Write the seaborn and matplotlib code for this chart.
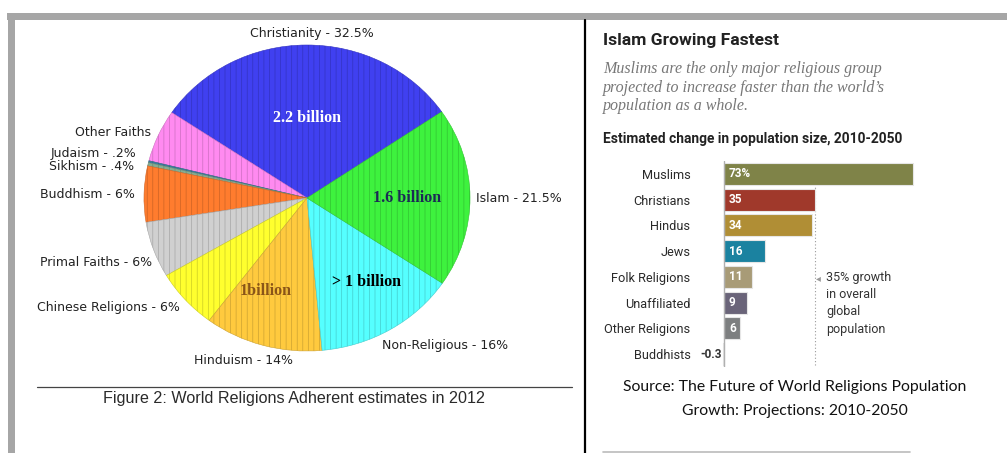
import matplotlib
matplotlib.use("Agg")
import matplotlib.pyplot as plt
import matplotlib.colors as mcolors
from matplotlib.patches import Rectangle
from matplotlib.lines import Line2D
import seaborn as sns
import pandas as pd

# ---------------- data: left pie (World Religions 2012) ----------------
pie_names = ["Christianity", "Other Faiths", "Judaism", "Sikhism", "Buddhism",
             "Primal Faiths", "Chinese Religions", "Hinduism", "Non-Religious", "Islam"]
pie_label_text = ["Christianity - 32.5%", "Other Faiths", "Judaism - .2%", "Sikhism - .4%",
                  "Buddhism - 6%", "Primal Faiths - 6%", "Chinese Religions - 6%",
                  "Hinduism - 14%", "Non-Religious - 16%", "Islam - 21.5%"]
pie_shares = [31.0, 5.5, 0.2, 0.35, 5.9, 5.9, 6.3, 11.7, 14.1, 18.9]
pie_colors = ["#4040f0", "#ff8af0", "#3a7fa0", "#86ad92", "#ff7c2e",
              "#d0d0d0", "#ffff2e", "#ffca3e", "#55ffff", "#3ef23e"]
inner_text = ["2.2 billion", "1.6 billion", "> 1 billion", "1billion"]
inner_color = ["white", "#1b2a55", "black", "#8a5518"]

# ---------------- data: right bars (change 2010-2050) ----------------
groups = ["Muslims", "Christians", "Hindus", "Jews", "Folk Religions",
          "Unaffiliated", "Other Religions", "Buddhists"]
change = [73, 35, 34, 16, 11, 9, 6, -0.3]
value_labels = ["73%", "35", "34", "16", "11", "9", "6", "-0.3"]
bar_colors = ["#7f8348", "#a0392b", "#b08e35", "#1b82a0", "#a89b77",
              "#6a6479", "#7d7f80", "#7d7f80"]
global_growth = 35

W, H = 1007, 453
sns.set_theme(style="white")
plt.rcParams["font.family"] = ["DejaVu Sans"]
plt.rcParams["hatch.linewidth"] = 0.5

fig = plt.figure(figsize=(W / 100, H / 100), dpi=100)
fig.patch.set_facecolor("white")

def fx(x):
    return x / W

def fy(y):
    return 1 - y / H

def ptext(x, y, s, **kw):
    fig.text(fx(x), fy(y), s, **kw)

# ---- frame decorations ----
fig.add_artist(Rectangle((fx(7), fy(20)), fx(1007) - fx(7), fy(13) - fy(20),
                         transform=fig.transFigure, color="#a6a6a6", lw=0))
fig.add_artist(Rectangle((fx(8), fy(453)), fx(15) - fx(8), fy(13) - fy(453),
                         transform=fig.transFigure, color="#a6a6a6", lw=0))
fig.add_artist(Line2D([fx(584.5), fx(584.5)], [fy(20), fy(453)],
                      transform=fig.transFigure, color="black", lw=1.6))
fig.add_artist(Line2D([fx(37), fx(572)], [fy(387), fy(387)],
                      transform=fig.transFigure, color="#444444", lw=0.9))
fig.add_artist(Line2D([fx(603), fx(910)], [fy(452), fy(452)],
                      transform=fig.transFigure, color="#bbbbbb", lw=1.2))

# ---- pie ----
cx, cy, rx, ry = 307, 198, 163, 153
axp = fig.add_axes([fx(cx - rx), fy(cy + ry), (2 * rx) / W, (2 * ry) / H])
edge = [mcolors.to_hex([c * 0.8 for c in mcolors.to_rgb(col)]) for col in pie_colors]
wedges, _ = axp.pie(pie_shares, colors=pie_colors, startangle=34.3,
                    counterclock=True, radius=1,
                    wedgeprops=dict(linewidth=0.4, hatch="|||"))
for w, e in zip(wedges, edge):
    w.set_edgecolor(e)
axp.set_aspect("auto")
axp.set_xlim(-1, 1)
axp.set_ylim(-1, 1)
axp.axis("off")

lab = dict(fontsize=9, color="#222222", va="center")
ptext(312, 33, pie_label_text[0], ha="center", **lab)
ptext(151, 133, pie_label_text[1], ha="right", **lab)
ptext(136, 154, pie_label_text[2], ha="right", **lab)
ptext(134, 167, pie_label_text[3], ha="right", **lab)
ptext(135, 194, pie_label_text[4], ha="right", **lab)
ptext(152, 262, pie_label_text[5], ha="right", **lab)
ptext(180, 307, pie_label_text[6], ha="right", **lab)
ptext(244, 360, pie_label_text[7], ha="center", **lab)
ptext(382, 345, pie_label_text[8], ha="left", **lab)
ptext(476, 198, pie_label_text[9], ha="left", **lab)

inner_pos = [(307, 118), (407, 198), (366, 282), (266, 291)]
for (x, y), s, c in zip(inner_pos, inner_text, inner_color):
    ptext(x, y, s, ha="center", va="center", fontsize=11.5, fontweight="bold",
          color=c, family=["Liberation Serif"])

ptext(294, 398, "Figure 2: World Religions Adherent estimates in 2012",
      ha="center", va="center", fontsize=11.6, color="#2a2a2a",
      family=["Liberation Sans"])

# ---- right panel text ----
ptext(603, 40, "Islam Growing Fastest", ha="left", va="center", fontsize=12.6,
      fontweight="bold", color="#222222", family=["Roboto"])
sub = ["Muslims are the only major religious group",
       "projected to increase faster than the world\u2019s",
       "population as a whole."]
for i, s in enumerate(sub):
    ptext(603, 69 + i * 18.5, s, ha="left", va="center", fontsize=11.5,
          style="italic", color="#777777", family=["Liberation Serif"])
ptext(603, 139, "Estimated change in population size, 2010-2050", ha="left",
      va="center", fontsize=9.9, fontweight="bold", color="#222222", family=["Roboto"])

# ---- bars ----
px_per_unit = 2.59
x0_px, left_px, right_px = 724, 714, 924
axb = fig.add_axes([fx(left_px), fy(367), (right_px - left_px) / W, (367 - 161) / H])
df = pd.DataFrame({"group": groups, "change": change})
sns.barplot(data=df, x="change", y="group", hue="group", palette=bar_colors,
            legend=False, orient="h", width=0.86, saturation=1, ax=axb,
            edgecolor="#e6e6e6", linewidth=0.8)
axb.set_xlim(-(x0_px - left_px) / px_per_unit, (right_px - x0_px) / px_per_unit)
axb.set_ylim(len(groups) - 0.5, -0.5)
for s in axb.spines.values():
    s.set_visible(False)
axb.set_xticks([])
axb.set_xlabel("")
axb.set_ylabel("")
axb.tick_params(axis="y", length=0, pad=17)
for t in axb.get_yticklabels():
    t.set_fontfamily(["Roboto"])
    t.set_fontsize(9.2)
    t.set_color("#2a2a2a")
axb.axvline(0, color="#b0b0b0", lw=1.0, zorder=3)
axb.axvline(global_growth, ymin=0.01, ymax=0.99, color="#9a9a9a", lw=0.8,
            ls=(0, (1, 2)), zorder=0.5)
for i, (v, s) in enumerate(zip(change, value_labels)):
    if v > 0:
        axb.text(1.9, i, s, ha="left", va="center", fontsize=8.5, fontweight="bold",
                 color="white", family=["Roboto"])
    else:
        axb.text(-0.8, i, s, ha="right", va="center", fontsize=8.5,
                 fontweight="bold", color="#333333", family=["Roboto"])

ptext(818, 278, "\u25C2", ha="center", va="center", fontsize=7, color="#999999")
ann = ["35% growth", "in overall", "global", "population"]
for i, s in enumerate(ann):
    ptext(826, 278 + i * 17, s, ha="left", va="center", fontsize=9,
          color="#333333", family=["Roboto"])

ptext(795, 387, "Source: The Future of World Religions Population", ha="center",
      va="center", fontsize=11.3, color="#111111", family=["Lato"])
ptext(795, 411, "Growth: Projections: 2010-2050", ha="center",
      va="center", fontsize=11.3, color="#111111", family=["Lato"])

fig.savefig("out.png", dpi=100)
